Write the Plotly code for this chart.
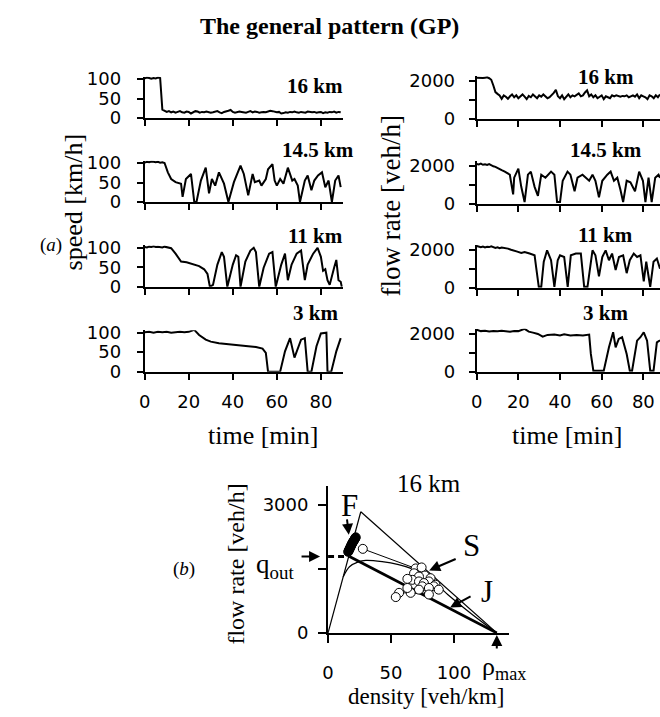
import plotly.graph_objects as go

# ---------------- data ----------------
# (a) speed [km/h] time series
t_16 = list(range(90))
v_16 = [102,104,103,101,103,102,104,103, 22, 20,
        16,18,15,17,14,16,18,15,14,17, 16,12,15,18,17,14,16,15,17,16,
        14,15,16,18,15,13,16,17,19,21, 16,14,15,17,16,15,14,16,18,15,
        17,16,14,15,16,15,17,19,18,16, 15,16,12,13,15,14,16,15,17,15,
        14,16,15,14,17,16,15,16,14,15, 16,13,15,14,16,15,17,14,16,15]

t_145 = [0,1,2,3,4,5,6,7,8,9, 10.5,12,14,16.5,17.2,18.7,21,22.5,23.5,25.5,
         27.7,29.2,30.5,32,33.7,36,38,40.5,43.5,45, 47,49,50,52,53,55,56,58,59,60,
         61.5,63,65,67,68,69.5,70.5,72.7,74,75.7, 77,78.7,80.5,82,83.5,85,86.5,88,89]
v_145 = [101,103,102,104,103,102,103,101,102,100, 76,59,51,47,13,59,72,0,0,55,
         88,22,59,42,76,47,0,51,93,72, 17,72,51,55,42,59,84,97,55,42,
         59,47,88,55,59,42,0,55,68,30, 55,68,76,38,55,0,55,68,38]

t_11 = [0,1,2,3,4,5,6,7,8,9,10,11,12, 14,16.5,19,21.7,24.7,27,28.5,29.6,31,33,
        35,36,37.5,40,41.5,42.5,43.5,45.7,48,49.5, 50.5,52,54,56.5,58,59.5,62,63.7,65,66.7,
        69,71,72.7,74,76.5,78.5,80,81,82,83, 84,86,87,88,89,89.5]
v_11 = [102,101,103,102,104,102,103,102,101,103,102,100,99, 85,65,63,58,53,45,33,0,5,57,
        89,77,0,57,81,77,0,65,93,100, 89,0,49,85,89,0,57,85,17,57,
        85,93,17,57,85,100,77,41,45,17, 5,49,69,17,13,0]

t_3 = [0,2,4,6,8,10,12,14,16,18,20, 22.5,24.7,27.7,30,33.7,38,42.5,47,50.5,53.5,
       55,56,61.5,63.7,66,68,71,72.7,74,75.7, 78,80,82.5,83,84.7,87,89]
v_3 = [101,102,100,102,101,102,100,101,102,101,102, 107,94,82,77,73,71,68,65,63,59,
       48,0,0,52,86,36,82,86,0,0, 65,98,100,0,0,52,86]

# (a) flow rate [veh/h] time series
tq_16 = list(range(89))
q_16 = [2180,2170,2190,2160,2180,2200,2150,2070,1770,1420,
        1330,1250,1070,1250,1180,1070,1200,1300,1150,1250,
        1100,1200,1300,1180,1050,1220,1150,1300,1200,1100,
        1250,1180,1300,1220,1100,1150,1250,1380,1540,1200,
        1100,1250,1050,1200,1300,1150,1250,1200,1300,1350,
        1200,1250,1400,1510,1200,1300,1150,1250,1100,1200,
        1250,1050,1200,1150,1100,1250,1200,1250,1200,1180,
        1220,1200,1250,1150,1200,1250,1180,1300,1100,1250,
        1200,1150,1050,1250,1200,1100,1250,1150,1300]

tq_145 = [0,1,2,3,4,5,6,7,8,9, 10.3,12,13.5,15.9,17.5,18,20,21.4,23,24.6,
          26,27.8,29.4,31,33,35.7,37.3,38.6,40,41.3, 43.6,45,47,48.4,50.8,52.4,54,55.6,57,58.7,
          60.3,62.7,64.3,65.9,67.5,69,70.3,72,73.8,76, 78,79.8,81,82.5,84,85.7,87.3,88]
q_145 = [2100,2080,2120,2060,2090,2050,2100,2030,1980,1950, 1860,1780,1700,1540,500,1380,1860,900,100,1540,
         1700,900,430,1540,1380,1700,1540,100,100,1220, 1700,1540,670,1380,1540,1380,1220,1540,1220,350,
         1220,1540,1700,1220,1380,750,100,1220,1140,670, 1700,1220,100,1380,100,1380,1540,1380]

tq_11 = [0,1,2,3,4,5,6,7,8,9,10,11,12, 13.5,15,16.5,18,19.5,21.4,23,25.4,27.8,28.6,
         29.8,31,32.2,33.8,35.7,37.3,38.9,40,42,43.7, 45.2,47.6,50,51.6,53.2,55.6,57,58.7,60.3,61.9,
         63.5,65,66.7,68.3,70.3,72,73.5,75.4,77,78.6, 80.2,81.4,83.3,84.9,86.5,88]
q_11 = [2200,2150,2130,2170,2120,2160,2140,2180,2150,2100,2130,2080,2120, 2100,2060,2000,1970,1900,1830,1880,1800,1710,1030,
        50,50,1370,1970,1450,50,1450,1710,1620,50, 1710,1800,1800,50,50,1970,1710,600,1620,1970,
        1450,1800,940,1620,1710,770,1450,1800,1620,1710, 340,1370,50,1370,1540,1000]

tq_3 = [0,2,4,6,8,10,12,14,16,18,20, 23,25,27,29.4,31.7,34,37.3,40,42,45,
        48,51,54,54.8,56,61,63.5,65.5,66.7,68.2, 69.8,72,73.5,74.6,77,78.6,80.2,81.8,83.3,84.9, 86.5,88]
q_3 = [2200,2130,2150,2110,2140,2120,2150,2130,2100,2140,2130, 2250,2100,2050,1980,1840,1930,1950,1900,1960,1900,
       1920,1900,1950,930,50,50,1280,2070,1280,1720, 1810,930,50,50,1630,1810,2070,1630,50,50, 1540,1650]

# (b) flow-density plane at 16 km
ff_rho = [0, 26]            # free-flow branch
ff_q = [0, 2840]
up_rho = [26, 134]          # upper boundary of synchronized flow
up_q = [2840, 0]
J_rho = [17, 134]           # line J
J_q = [1790, 0]
qout_rho = [0, 17]
qout_q = [1790, 1790]
c_rho = [12, 17, 24, 30, 43, 56, 67, 80, 95, 115, 134]
c_q = [1310, 1550, 1665, 1700, 1670, 1600, 1500, 1300, 900, 420, 0]
F_rho = [16, 16.4, 16.8, 17.2, 17.6, 18, 18.4, 18.8, 19.2, 19.6, 20, 20.4, 20.8, 21.2, 21.6, 22]
F_q = [1900, 1925, 1950, 1975, 2000, 2025, 2050, 2075, 2100, 2120, 2140, 2160, 2180, 2200, 2220, 2240]
S_rho = [27.6, 69.6, 74.3, 68.3, 76.9, 72.2, 81.4, 66.9, 63, 72.2, 80.1, 76.1, 85.3, 74.8, 84,
         80.1, 87.9, 72.2, 80.1, 65.6, 56.4, 53.8, 63]
S_q = [1970, 1511, 1534, 1397, 1344, 1321, 1282, 1244, 1267, 1206, 1206, 1168, 1129, 1092, 1092,
       1053, 1014, 1014, 900, 939, 939, 840, 1053]
rho_max = 134
q_out = 1790

speed_series = [(t_16, v_16, "16 km"), (t_145, v_145, "14.5 km"), (t_11, v_11, "11 km"), (t_3, v_3, "3 km")]
flow_series = [(tq_16, q_16, "16 km"), (tq_145, q_145, "14.5 km"), (tq_11, q_11, "11 km"), (tq_3, q_3, "3 km")]

# ---------------- layout helpers ----------------
W, H = 660, 717
def dx(a, b):
    return [a / W, b / W]
def dy(top, bottom):
    return [1 - bottom / H, 1 - top / H]

SERIF = "Liberation Serif"
SANS = "DejaVu Sans"
TICKFONT = dict(family=SANS, size=18, color="black")

fig = go.Figure()
layout = dict(width=W, height=H, margin=dict(l=0, r=0, t=0, b=0),
              paper_bgcolor="white", plot_bgcolor="white", showlegend=False)

def axis_common():
    return dict(showline=True, linecolor="black", linewidth=2, ticks="outside",
                tickwidth=2, tickcolor="black", ticklen=6, showgrid=False,
                zeroline=False, tickfont=TICKFONT, fixedrange=True)

annotations = []
def text(x, y, s, size, family=SERIF, angle=0, bold=False):
    if bold:
        s = "<b>" + s + "</b>"
    annotations.append(dict(x=x / W, y=1 - y / H, xref="paper", yref="paper", text=s,
                            showarrow=False, font=dict(family=family, size=size, color="black"),
                            textangle=angle, xanchor="center", yanchor="middle"))

idx = 1
left_bottoms = [113, 199, 286, 373]
right_bottoms = [114, 201, 287, 373]
left_label_y = [80, 146, 234, 313]
right_label_y = [71, 146, 233, 313]

for i, (t, v, lab) in enumerate(speed_series):
    xa, ya = "x%d" % idx, "y%d" % idx
    fig.add_trace(go.Scatter(x=t, y=v, mode="lines", line=dict(color="black", width=2),
                             xaxis=xa, yaxis=ya, cliponaxis=False))
    b = left_bottoms[i]
    xax = axis_common()
    xax.update(domain=dx(140, 340), range=[0, 90], anchor=ya, tickvals=[0, 20, 40, 60, 80],
               showticklabels=(i == 3), ticklabelstandoff=7)
    yax = axis_common()
    yax.update(domain=dy(b - 42.4, b), range=[0, 106], anchor=xa, tickvals=[0, 50, 100],
               ticklabelstandoff=12)
    layout["xaxis" + ("" if idx == 1 else str(idx))] = xax
    layout["yaxis" + ("" if idx == 1 else str(idx))] = yax
    text(312 if lab != "14.5 km" else 315, left_label_y[i], lab, 21, bold=True)
    idx += 1

for i, (t, q, lab) in enumerate(flow_series):
    xa, ya = "x%d" % idx, "y%d" % idx
    fig.add_trace(go.Scatter(x=t, y=q, mode="lines", line=dict(color="black", width=2),
                             xaxis=xa, yaxis=ya))
    b = right_bottoms[i]
    xax = axis_common()
    xax.update(domain=dx(475, 660), range=[0, 88], anchor=ya, tickvals=[0, 20, 40, 60, 80],
               showticklabels=(i == 3), ticklabelstandoff=7)
    yax = axis_common()
    yax.update(domain=dy(b - 43.9, b), range=[0, 2250], anchor=xa, tickvals=[0, 1000, 2000],
               ticktext=["0", "", "2000"], ticklabelstandoff=10)
    layout["xaxis%d" % idx] = xax
    layout["yaxis%d" % idx] = yax
    text(605, right_label_y[i], lab, 21, bold=True)
    idx += 1

# (b) panel
xa, ya = "x9", "y9"
thin = dict(color="black", width=1.2)
fig.add_trace(go.Scatter(x=ff_rho, y=ff_q, mode="lines", line=thin, xaxis=xa, yaxis=ya))
fig.add_trace(go.Scatter(x=up_rho, y=up_q, mode="lines", line=thin, xaxis=xa, yaxis=ya))
fig.add_trace(go.Scatter(x=c_rho, y=c_q, mode="lines", line=dict(color="black", width=1.2),
                         line_shape="spline", xaxis=xa, yaxis=ya))
fig.add_trace(go.Scatter(x=J_rho, y=J_q, mode="lines", line=dict(color="black", width=2.8),
                         xaxis=xa, yaxis=ya))
fig.add_trace(go.Scatter(x=qout_rho, y=qout_q, mode="lines",
                         line=dict(color="black", width=3, dash="6px,4px"), xaxis=xa, yaxis=ya))
fig.add_trace(go.Scatter(x=S_rho, y=S_q, mode="lines+markers", line=dict(color="black", width=1),
                         marker=dict(size=9, color="white", line=dict(color="black", width=1)),
                         xaxis=xa, yaxis=ya, cliponaxis=False))
fig.add_trace(go.Scatter(x=F_rho, y=F_q, mode="markers",
                         marker=dict(size=9, color="black", line=dict(color="black", width=1)),
                         xaxis=xa, yaxis=ya, cliponaxis=False))

xax = axis_common()
xax.update(domain=dx(325, 508), range=[0, 144], anchor=ya, tickvals=[0, 50, 100],
           ticklen=8, ticklabelstandoff=14)
yax = axis_common()
yax.update(domain=dy(490, 641), range=[0, 3450], anchor=xa, tickvals=[0, 1500, 3000],
           ticktext=["0", "", "3000"], ticklen=8, ticklabelstandoff=6)
layout["xaxis9"] = xax
layout["yaxis9"] = yax

def arrow(x, y, ax, ay, standoff=0):
    annotations.append(dict(x=x, y=y, xref=xa, yref=ya, ax=ax, ay=ay, text="",
                            showarrow=True, arrowhead=2, arrowsize=1.1, arrowwidth=2,
                            arrowcolor="black", standoff=standoff))

arrow(F_rho[0] + 0.5, 2300, -2, -17)
arrow(80.3, 1465, 28, -12)
arrow(96.9, 595, 22, -12)
arrow(0, q_out, -28, 0, standoff=8)
arrow(rho_max, 0, 0, 17, standoff=2)

# texts
text(326, 18, "The general pattern (GP)", 24, bold=True)
text(68, 199, "speed [km/h]", 26, angle=-90)
text(388, 203, "flow rate [veh/h]", 27, angle=-90)
text(259, 438, "time [min]", 26)
text(566, 438, "time [min]", 26)
text(45, 243, "(<i>a</i>)", 19)
text(180, 575, "(<i>b</i>)", 19)
text(427, 488, "16 km", 25)
text(347, 510, "F", 31)
text(470, 551, "S", 31)
text(485, 599, "J", 31)
text(271, 572, "q<sub>out</sub>", 27)
text(503, 677, "ρ<sub>max</sub>", 26)
text(232, 570, "flow rate [veh/h]", 24, angle=-90)
text(424, 706, "density [veh/km]", 23)

layout["annotations"] = annotations
fig.update_layout(**layout)
fig.write_html("out.html")
